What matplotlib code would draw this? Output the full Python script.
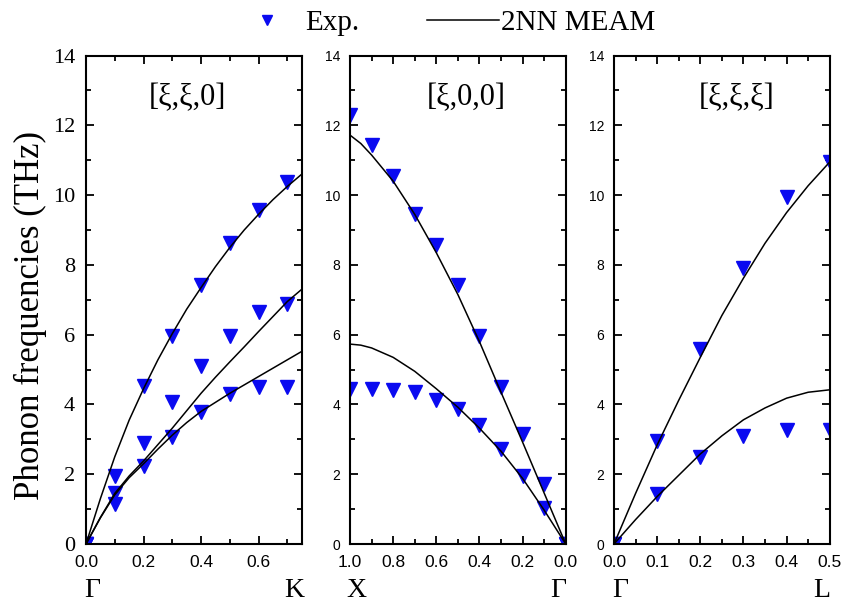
import numpy as np
import matplotlib
matplotlib.use('Agg')
import matplotlib.pyplot as plt
from matplotlib.ticker import MultipleLocator
from matplotlib.lines import Line2D

plt.rcParams['font.family'] = ['Liberation Serif', 'DejaVu Serif']

# ---- [xi, xi, 0] : Gamma -> K ----
q110_line = [0, .05, .1, .15, .2, .25, .3, .35, .4, .45, .5, .55, .6, .65, .7, .75]
la110_line = [0, 1.3, 2.5, 3.55, 4.45, 5.28, 6.03, 6.73, 7.35, 7.95, 8.5, 9.0, 9.45, 9.87, 10.25, 10.6]
ta2_110_line = [0, 0.76, 1.45, 1.95, 2.38, 2.85, 3.32, 3.82, 4.32, 4.78, 5.22, 5.65, 6.09, 6.52, 6.95, 7.3]
ta1_110_line = [0, 0.75, 1.41, 1.9, 2.3, 2.72, 3.12, 3.48, 3.8, 4.06, 4.32, 4.56, 4.8, 5.04, 5.28, 5.52]

q110_exp = [0, .1, .2, .3, .4, .5, .6, .7]
la110_exp = [0, 1.96, 4.52, 5.95, 7.43, 8.64, 9.57, 10.38]
ta2_110_exp = [0, 1.47, 2.89, 4.07, 5.1, 5.95, 6.64, 6.89]
ta1_110_exp = [0, 1.16, 2.24, 3.08, 3.77, 4.29, 4.51, 4.51]

# ---- [xi, 0, 0] : X -> Gamma ----
q100_line = [0, .1, .2, .3, .4, .5, .6, .7, .8, .9, .95, 1.0]
la100_line = [0, 1.46, 2.92, 4.35, 5.8, 7.15, 8.35, 9.45, 10.4, 11.15, 11.48, 11.72]
ta100_line = [0, 0.97, 1.88, 2.66, 3.32, 3.92, 4.45, 4.95, 5.35, 5.62, 5.7, 5.73]

q100_exp = [0, .1, .2, .3, .4, .5, .6, .7, .8, .9, 1.0]
la100_exp = [0, 1.71, 3.14, 4.5, 5.97, 7.43, 8.57, 9.46, 10.54, 11.43, 12.29]
ta100_exp = [0, 1.04, 1.94, 2.73, 3.4, 3.88, 4.14, 4.35, 4.42, 4.45, 4.45]

# ---- [xi, xi, xi] : Gamma -> L ----
q111_line = [0, .05, .1, .15, .2, .25, .3, .35, .4, .45, .5]
la111_line = [0, 1.45, 2.84, 4.12, 5.35, 6.55, 7.62, 8.62, 9.5, 10.27, 10.95]
ta111_line = [0, 0.7, 1.36, 1.97, 2.58, 3.1, 3.56, 3.9, 4.18, 4.35, 4.42]

q111_exp = [0, .1, .2, .3, .4, .5]
la111_exp = [0, 2.95, 5.58, 7.92, 9.96, 10.95]
ta111_exp = [0, 1.44, 2.5, 3.1, 3.27, 3.27]

panels = [
    dict(title='[ξ,ξ,0]', xlim=(0, 0.75), major=0.2, minor=0.1,
         q_line=q110_line, lines=[la110_line, ta2_110_line, ta1_110_line],
         q_exp=q110_exp, exps=[la110_exp, ta2_110_exp, ta1_110_exp],
         ends=('Γ', 'K'), title_x=0.47),
    dict(title='[ξ,0,0]', xlim=(1.0, 0), major=0.2, minor=0.1,
         q_line=q100_line, lines=[la100_line, ta100_line],
         q_exp=q100_exp, exps=[la100_exp, ta100_exp],
         ends=('X', 'Γ'), title_x=0.54),
    dict(title='[ξ,ξ,ξ]', xlim=(0, 0.5), major=0.1, minor=0.05,
         q_line=q111_line, lines=[la111_line, ta111_line],
         q_exp=q111_exp, exps=[la111_exp, ta111_exp],
         ends=('Γ', 'L'), title_x=0.57),
]

fig = plt.figure(figsize=(8.44, 6.06), dpi=100)
lefts = [0.1019, 0.4147, 0.7275]
bottom, height = 0.1023, 0.806
width = 0.2556

for i, p in enumerate(panels):
    ax = fig.add_axes([lefts[i], bottom, width, height])
    for yv in p['exps']:
        ax.plot(p['q_exp'], yv, linestyle='none', marker='v', ms=10,
                color='#0a0af0', zorder=2)
    for yv in p['lines']:
        ax.plot(p['q_line'], yv, color='black', lw=1.1, zorder=3)

    ax.set_xlim(*p['xlim'])
    ax.set_ylim(0, 14)
    ax.xaxis.set_major_locator(MultipleLocator(p['major']))
    ax.xaxis.set_minor_locator(MultipleLocator(p['minor']))
    ax.yaxis.set_major_locator(MultipleLocator(2))
    ax.yaxis.set_minor_locator(MultipleLocator(1))
    ax.tick_params(which='both', direction='in', top=True, right=True, width=1.3)
    ax.tick_params(which='major', length=6)
    ax.tick_params(which='minor', length=3.5)
    ax.tick_params(axis='x', pad=8)
    for sp in ax.spines.values():
        sp.set_linewidth(1.5)

    ax.set_xticks(ax.get_xticks())
    ax.set_xticklabels([f'{t:.1f}' for t in ax.get_xticks()],
                       family='Liberation Sans', fontsize=12.5)
    ax.set_xlim(*p['xlim'])
    ax.set_yticks(ax.get_yticks())
    if i == 0:
        ax.set_yticklabels([f'{int(t)}' for t in ax.get_yticks()],
                           family='Liberation Serif', fontsize=16)
        ax.tick_params(axis='y', pad=8)
    else:
        ax.set_yticklabels([f'{int(t)}' for t in ax.get_yticks()],
                           family='Liberation Sans', fontsize=10)
        ax.tick_params(axis='y', pad=7)
    ax.set_ylim(0, 14)

    ax.text(p['title_x'], 0.914, p['title'], transform=ax.transAxes,
            ha='center', va='center', fontsize=22)
    ax.text(0.03, -0.096, p['ends'][0], transform=ax.transAxes,
            ha='center', va='center', fontsize=20)
    ax.text(0.965, -0.096, p['ends'][1], transform=ax.transAxes,
            ha='center', va='center', fontsize=20)

fig.text(0.036, 0.48, 'Phonon frequencies (THz)', rotation=90,
         ha='center', va='center', fontsize=25)

handles = [Line2D([], [], linestyle='none', marker='v', ms=10, color='#0a0af0'),
           Line2D([], [], color='black', lw=1.1)]
fig.legend(handles, ['Exp.', '2NN MEAM'], loc='center', bbox_to_anchor=(0.525, 0.962),
           ncol=2, frameon=False, fontsize=21, markerscale=0.7,
           handlelength=2.5, handletextpad=0.05, columnspacing=2.3)

fig.savefig('out.png', dpi=100)
